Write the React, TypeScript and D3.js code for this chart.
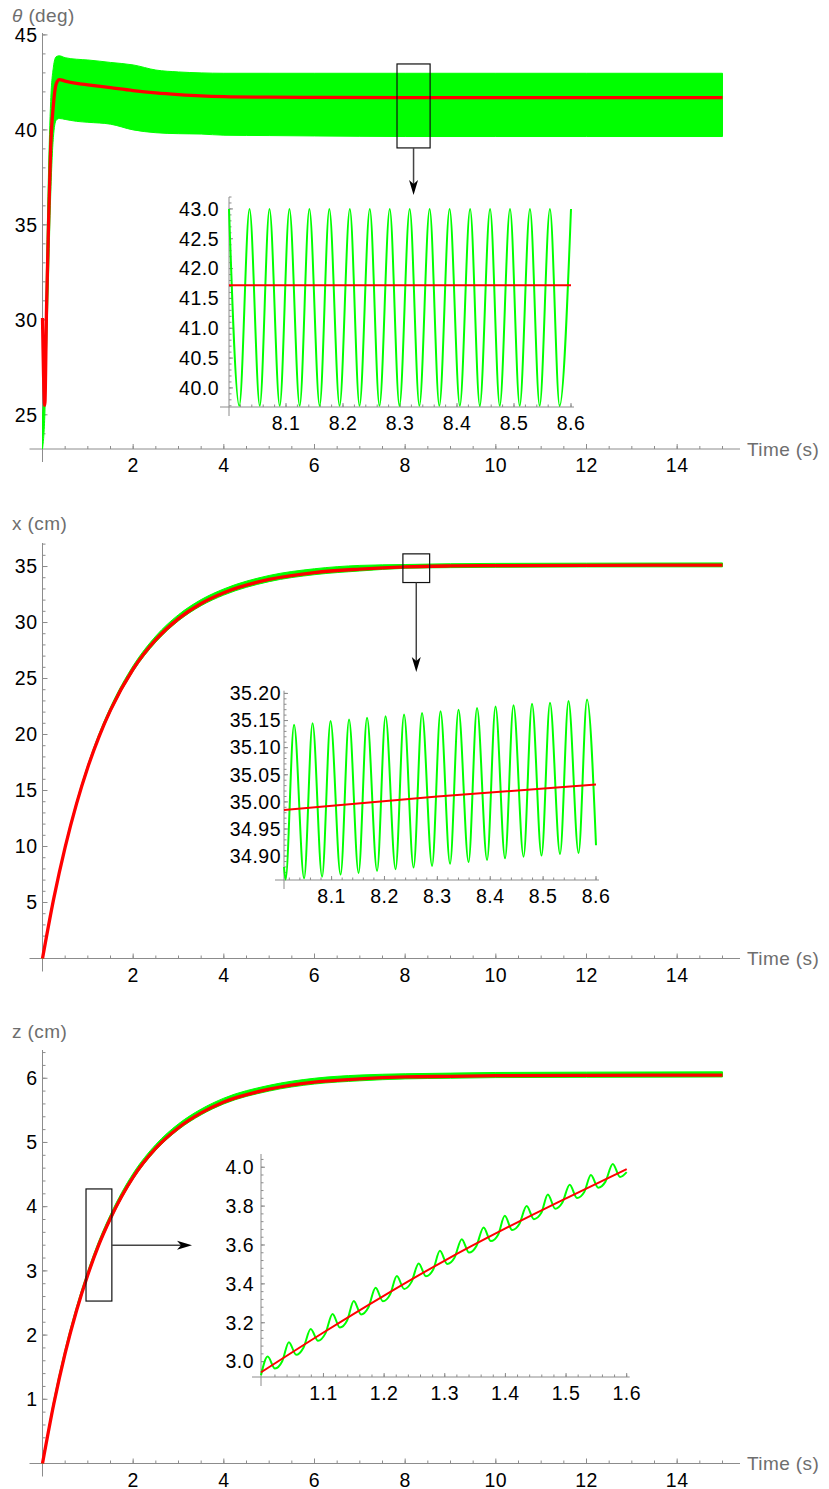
import React from 'react';
import * as d3 from 'd3';

// theta (deg) vs time, main view: mean curve and the oscillation envelope
const thetaTime = [0, 0.05, 0.09, 0.13, 0.18, 0.24, 0.3, 0.37, 0.5, 0.75, 1, 1.5, 2, 2.5, 3, 3.5, 4, 5, 6, 8, 10, 12, 15];
const thetaMean = [30.1, 25.5, 30.7, 34.7, 39.1, 41.3, 42.4, 42.65, 42.57, 42.45, 42.37, 42.22, 42.07, 41.95, 41.86, 41.79, 41.75, 41.72, 41.71, 41.7, 41.7, 41.7, 41.7];
const thetaHigh = [25.0, 27.5, 33.0, 37.5, 41.5, 43.3, 43.85, 43.9, 43.8, 43.72, 43.68, 43.55, 43.42, 43.15, 43.05, 43.0, 42.98, 42.98, 42.98, 42.98, 42.98, 42.98, 42.98];
const thetaLow = [23.2, 24.9, 28.5, 32.0, 36.5, 39.6, 40.5, 40.6, 40.55, 40.45, 40.4, 40.3, 40.0, 39.85, 39.8, 39.78, 39.72, 39.7, 39.68, 39.65, 39.65, 39.65, 39.65];

// theta zoom 8.0 - 8.6 s (peaks / troughs of the green signal)
const thetaZoomT = [8.0, 8.018, 8.036, 8.054, 8.071, 8.089, 8.106, 8.124, 8.141, 8.159, 8.176, 8.194, 8.212, 8.229, 8.247, 8.264, 8.282, 8.299, 8.317, 8.334, 8.352, 8.369, 8.387, 8.405, 8.423, 8.44, 8.458, 8.475, 8.493, 8.51, 8.528, 8.545, 8.563, 8.58, 8.6];
const thetaZoomV = [43.0, 39.7, 43.0, 39.7, 43.0, 39.7, 43.0, 39.7, 43.0, 39.7, 43.0, 39.7, 43.0, 39.7, 43.0, 39.7, 43.0, 39.7, 43.0, 39.7, 43.0, 39.7, 43.0, 39.7, 43.0, 39.7, 43.0, 39.7, 43.0, 39.7, 43.0, 39.7, 43.0, 39.7, 43.0];
const thetaZoomMeanT = [8.0, 8.6];
const thetaZoomMeanV = [41.72, 41.72];

// x (cm)
const xTime = [0, 0.25, 0.5, 0.75, 1, 1.25, 1.5, 2, 2.5, 3, 3.5, 4, 5, 6, 7, 8, 9, 10, 12, 15];
const xMean = [0, 5.39, 9.95, 13.81, 17.08, 19.84, 22.18, 25.85, 28.47, 30.35, 31.7, 32.66, 33.85, 34.46, 34.77, 34.97, 35.05, 35.08, 35.11, 35.12];
const xHigh = [0, 5.5, 10.1, 14.0, 17.3, 20.1, 22.45, 26.15, 28.8, 30.7, 32.05, 33.0, 34.2, 34.8, 35.1, 35.18, 35.25, 35.28, 35.3, 35.32];
const xLow = [0, 5.3, 9.85, 13.7, 16.95, 19.7, 22.0, 25.65, 28.25, 30.15, 31.5, 32.45, 33.65, 34.27, 34.6, 34.84, 34.9, 34.93, 34.96, 34.97];

const xZoomT = [8.01, 8.013, 8.029, 8.048, 8.064, 8.082, 8.098, 8.117, 8.133, 8.151, 8.167, 8.186, 8.202, 8.221, 8.237, 8.255, 8.271, 8.29, 8.306, 8.324, 8.34, 8.359, 8.375, 8.394, 8.41, 8.428, 8.444, 8.463, 8.479, 8.497, 8.513, 8.532, 8.548, 8.567, 8.583, 8.6];
const xZoomV = [34.88, 34.857, 35.142, 34.859, 35.145, 34.862, 35.149, 34.866, 35.152, 34.869, 35.155, 34.873, 35.158, 34.876, 35.161, 34.879, 35.164, 34.882, 35.167, 34.886, 35.17, 34.889, 35.173, 34.893, 35.176, 34.896, 35.178, 34.899, 35.181, 34.901, 35.183, 34.904, 35.186, 34.906, 35.189, 34.92];
const xZoomMeanT = [8.01, 8.3, 8.6];
const xZoomMeanV = [34.985, 35.01, 35.032];

// z (cm)
const zTime = [0, 0.25, 0.5, 0.75, 1, 1.25, 1.5, 2, 2.5, 3, 3.5, 4, 5, 6, 7, 8, 9, 10, 12, 15];
const zMean = [0, 0.93, 1.72, 2.38, 2.94, 3.42, 3.82, 4.46, 4.91, 5.23, 5.46, 5.63, 5.83, 5.94, 5.99, 6.02, 6.03, 6.04, 6.045, 6.05];
const zHigh = [0, 0.99, 1.78, 2.44, 3.0, 3.48, 3.88, 4.52, 4.97, 5.29, 5.52, 5.69, 5.89, 6.0, 6.05, 6.07, 6.08, 6.09, 6.095, 6.1];
const zLow = [0, 0.9, 1.69, 2.35, 2.91, 3.39, 3.79, 4.43, 4.88, 5.2, 5.43, 5.6, 5.8, 5.91, 5.96, 5.99, 6.0, 6.01, 6.015, 6.02];

const zZoomT = [0.997, 1.008, 1.02, 1.032, 1.043, 1.055, 1.067, 1.079, 1.091, 1.103, 1.115, 1.127, 1.139, 1.15, 1.162, 1.174, 1.186, 1.198, 1.21, 1.221, 1.233, 1.245, 1.257, 1.269, 1.281, 1.292, 1.304, 1.316, 1.328, 1.34, 1.352, 1.364, 1.376, 1.388, 1.399, 1.411, 1.423, 1.435, 1.447, 1.459, 1.47, 1.482, 1.494, 1.506, 1.518, 1.53, 1.541, 1.553, 1.565, 1.577, 1.589, 1.6];
const zZoomV = [2.93, 3.026, 2.965, 3.002, 3.1, 3.035, 3.072, 3.168, 3.107, 3.144, 3.245, 3.176, 3.212, 3.312, 3.243, 3.279, 3.38, 3.311, 3.346, 3.44, 3.374, 3.409, 3.505, 3.439, 3.474, 3.57, 3.502, 3.534, 3.63, 3.561, 3.594, 3.69, 3.62, 3.653, 3.75, 3.677, 3.708, 3.8, 3.733, 3.764, 3.86, 3.787, 3.819, 3.91, 3.842, 3.873, 3.96, 3.895, 3.926, 4.017, 3.95, 3.975];
const zZoomMeanT = [0.997, 1.1, 1.2, 1.3, 1.4, 1.5, 1.6];
const zZoomMeanV = [2.945, 3.15, 3.34, 3.52, 3.685, 3.84, 3.99];

const FONT = "'Liberation Sans', Arial, Helvetica, sans-serif";
const GREEN = '#00ff00';
const RED = '#ff0000';
const AXIS = '#8c8c8c';
const LABEL = '#6e6e6e';

const steps = (a: number, b: number, step: number) =>
  d3.range(Math.round((b - a) / step) + 1).map((i) => +(a + i * step).toFixed(4));

type Scale = d3.ScaleLinear<number, number>;

function Axes(props: {
  x: Scale; y: Scale;
  xMajor: number[]; xMinor: number[]; yMajor: number[]; yMinor: number[];
  xFmt: (v: number) => string; yFmt: (v: number) => string;
  over: number; xEnd: number; gap: number; major: number; minor: number;
}) {
  const { x, y, over, gap } = props;
  const x0 = x.range()[0];
  const [y0, yTop] = y.range();
  return (
    <g fontFamily={FONT} fontSize={19.5} letterSpacing={0.5}>
      <line x1={x0 - over} x2={props.xEnd} y1={y0} y2={y0} stroke={AXIS} />
      <line x1={x0} x2={x0} y1={y0 + over} y2={yTop} stroke={AXIS} />
      {props.xMinor.map((v) => (
        <line key={'xn' + v} x1={x(v)} x2={x(v)} y1={y0} y2={y0 - props.minor} stroke={AXIS} />
      ))}
      {props.xMajor.map((v) => (
        <g key={'xj' + v}>
          <line x1={x(v)} x2={x(v)} y1={y0} y2={y0 - props.major} stroke={AXIS} />
          <text x={x(v)} y={y0 + 23} textAnchor="middle">{props.xFmt(v)}</text>
        </g>
      ))}
      {props.yMinor.map((v) => (
        <line key={'yn' + v} x1={x0} x2={x0 + props.minor} y1={y(v)} y2={y(v)} stroke={AXIS} />
      ))}
      {props.yMajor.map((v) => (
        <g key={'yj' + v}>
          <line x1={x0} x2={x0 + props.major} y1={y(v)} y2={y(v)} stroke={AXIS} />
          <text x={x0 - gap} y={y(v) + 6.8} textAnchor="end">{props.yFmt(v)}</text>
        </g>
      ))}
    </g>
  );
}

function Arrow({ from, to }: { from: [number, number]; to: [number, number] }) {
  const ang = Math.atan2(to[1] - from[1], to[0] - from[0]);
  const len = 15, half = 4.5, notch = 11;
  const px = (d: number, s: number) => to[0] - Math.cos(ang) * d - Math.sin(ang) * s;
  const py = (d: number, s: number) => to[1] - Math.sin(ang) * d + Math.cos(ang) * s;
  const head = `M${to[0]},${to[1]}L${px(len, half)},${py(len, half)}L${px(notch, 0)},${py(notch, 0)}L${px(len, -half)},${py(len, -half)}Z`;
  return (
    <g>
      <line x1={from[0]} y1={from[1]} x2={px(notch, 0)} y2={py(notch, 0)} stroke="#444" strokeWidth={1.5} />
      <path d={head} fill="#000" />
    </g>
  );
}

const mainX = d3.scaleLinear().domain([0, 15]).range([42.5, 722.5]);
const mainTicksX = { xMajor: steps(2, 14, 2), xMinor: steps(0.5, 15, 0.5), xFmt: (v: number) => String(v) };

function MainPanel(p: {
  y: Scale; t: number[]; mean: number[]; high: number[]; low: number[];
  yMajor: number[]; yMinor: number[]; title: React.ReactNode; titleY: number;
}) {
  const { y } = p;
  const area = d3.area<number>()
    .x((i) => mainX(p.t[i]))
    .y0((i) => y(p.low[i]))
    .y1((i) => y(p.high[i]))
    .curve(d3.curveMonotoneX);
  const line = d3.line<number>()
    .x((i) => mainX(p.t[i]))
    .y((i) => y(p.mean[i]))
    .curve(d3.curveMonotoneX);
  const idx = d3.range(p.t.length);
  const y0 = y.range()[0];
  return (
    <g>
      <Axes x={mainX} y={y} {...mainTicksX} yMajor={p.yMajor} yMinor={p.yMinor}
        yFmt={(v) => String(v)} over={13} xEnd={740} gap={5} major={5} minor={3} />
      <path d={area(idx) ?? ''} fill={GREEN} stroke={GREEN} strokeWidth={1} />
      <path d={line(idx) ?? ''} fill="none" stroke={RED} strokeWidth={3.3} strokeLinejoin="round" />
      <text x={747} y={y0 + 6.5} fontFamily={FONT} fontSize={19} letterSpacing={0.4} fill={LABEL}>Time (s)</text>
      <text x={12} y={p.titleY} fontFamily={FONT} fontSize={19} letterSpacing={0.4} fill={LABEL}>{p.title}</text>
    </g>
  );
}

function Inset(p: {
  x: Scale; y: Scale; t: number[]; v: number[]; mt: number[]; mv: number[];
  xMajor: number[]; xMinor: number[]; yMajor: number[]; yMinor: number[];
  yFmt: (v: number) => string; gap: number;
}) {
  const { x, y } = p;
  const g = d3.line<number>().x((i) => x(p.t[i])).y((i) => y(p.v[i])).curve(d3.curveMonotoneX);
  const r = d3.line<number>().x((i) => x(p.mt[i])).y((i) => y(p.mv[i])).curve(d3.curveMonotoneX);
  return (
    <g>
      <Axes x={x} y={y} xMajor={p.xMajor} xMinor={p.xMinor} yMajor={p.yMajor} yMinor={p.yMinor}
        xFmt={d3.format('.1f')} yFmt={p.yFmt} over={9} xEnd={x.range()[1] + 3} gap={p.gap} major={4} minor={2.5} />
      <path d={g(d3.range(p.t.length)) ?? ''} fill="none" stroke={GREEN} strokeWidth={2} strokeLinejoin="round" />
      <path d={r(d3.range(p.mt.length)) ?? ''} fill="none" stroke={RED} strokeWidth={2} />
    </g>
  );
}

function Box({ x, y, t0, t1, v0, v1 }: { x: Scale; y: Scale; t0: number; t1: number; v0: number; v1: number }) {
  return <rect x={x(t0)} y={y(v1)} width={x(t1) - x(t0)} height={y(v0) - y(v1)} fill="none" stroke="#111" strokeWidth={1.2} />;
}

export default function App() {
  const thetaY = d3.scaleLinear().domain([23.2, 45.1]).range([449, 33]);
  const xY = d3.scaleLinear().domain([0, 37.1]).range([958.5, 543]);
  const zY = d3.scaleLinear().domain([0, 6.44]).range([1463.5, 1050]);

  const thIx = d3.scaleLinear().domain([8.0, 8.6]).range([229, 571]);
  const thIy = d3.scaleLinear().domain([39.68, 43.2]).range([407, 197]);
  const xIx = d3.scaleLinear().domain([8.01, 8.6]).range([284, 596]);
  const xIy = d3.scaleLinear().domain([34.856, 35.205]).range([880, 690.7]);
  const zIx = d3.scaleLinear().domain([0.997, 1.6]).range([261, 626.7]);
  const zIy = d3.scaleLinear().domain([2.921, 4.068]).range([1377, 1154]);

  const zoomXTicks = { xMajor: steps(8.1, 8.6, 0.1), xMinor: steps(8.02, 8.6, 0.02) };

  return (
    <svg width={829} height={1489} style={{ position: 'absolute', left: 0, top: 0, background: '#fff' }}>
      {/* theta */}
      <MainPanel y={thetaY} t={thetaTime} mean={thetaMean} high={thetaHigh} low={thetaLow}
        yMajor={steps(25, 45, 5)} yMinor={steps(24, 45, 1)} titleY={21.5}
        title={<><tspan fontStyle="italic">θ</tspan> (deg)</>} />
      <Box x={mainX} y={thetaY} t0={7.82} t1={8.55} v0={39.05} v1={43.47} />
      <Arrow from={[mainX(8.185), thetaY(39.05)]} to={[mainX(8.185), 195]} />
      <Inset x={thIx} y={thIy} t={thetaZoomT} v={thetaZoomV} mt={thetaZoomMeanT} mv={thetaZoomMeanV}
        {...zoomXTicks} yMajor={steps(40, 43, 0.5)} yMinor={steps(39.7, 43.2, 0.1)} yFmt={d3.format('.1f')} gap={10} />

      {/* x */}
      <MainPanel y={xY} t={xTime} mean={xMean} high={xHigh} low={xLow}
        yMajor={steps(5, 35, 5)} yMinor={steps(1, 37, 1)} titleY={529.5} title="x (cm)" />
      <Box x={mainX} y={xY} t0={7.95} t1={8.54} v0={33.57} v1={36.13} />
      <Arrow from={[mainX(8.245), xY(33.57)]} to={[mainX(8.245), 672]} />
      <Inset x={xIx} y={xIy} t={xZoomT} v={xZoomV} mt={xZoomMeanT} mv={xZoomMeanV}
        {...zoomXTicks} yMajor={steps(34.9, 35.2, 0.05)} yMinor={steps(34.86, 35.2, 0.01)} yFmt={d3.format('.2f')} gap={3} />

      {/* z */}
      <MainPanel y={zY} t={zTime} mean={zMean} high={zHigh} low={zLow}
        yMajor={steps(1, 6, 1)} yMinor={steps(0.2, 6.4, 0.2)} titleY={1038} title="z (cm)" />
      <Box x={mainX} y={zY} t0={0.96} t1={1.53} v0={2.53} v1={4.276} />
      <Arrow from={[mainX(1.53), zY(3.4)]} to={[192, zY(3.4)]} />
      <Inset x={zIx} y={zIy} t={zZoomT} v={zZoomV} mt={zZoomMeanT} mv={zZoomMeanV}
        xMajor={steps(1.1, 1.6, 0.1)} xMinor={steps(1.02, 1.6, 0.02)}
        yMajor={steps(3.0, 4.0, 0.2)} yMinor={steps(2.96, 4.04, 0.04)} yFmt={d3.format('.1f')} gap={7} />
    </svg>
  );
}
